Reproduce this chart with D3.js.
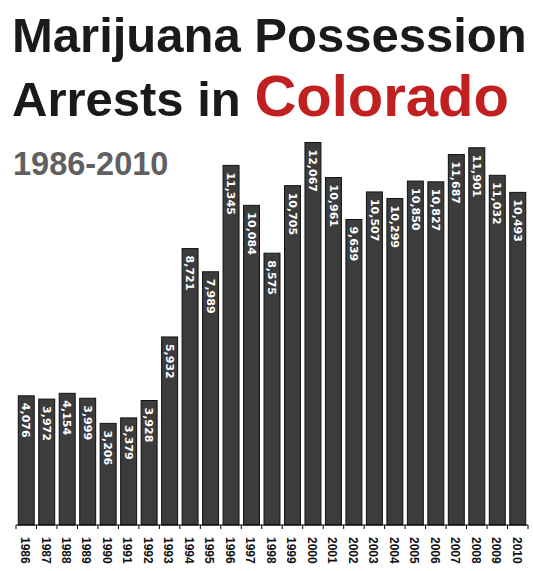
<!DOCTYPE html>
<html lang="en">
<head>
    <meta charset="UTF-8">
    <title>Marijuana Possession Arrests in Colorado</title>
    <script src="https://d3js.org/d3.v7.min.js"></script>
    <style>
        body {
            margin: 0;
            background: #fff;
        }
        svg {
            display: block;
        }
        .title {
            font-family: "Liberation Sans", Arial, sans-serif;
            font-weight: bold;
            font-size: 49px;
            fill: #1b1a1b;
        }
        .subtitle {
            font-family: "Liberation Sans", Arial, sans-serif;
            font-weight: bold;
            font-size: 32.5px;
            fill: #606062;
        }
        .value {
            font-family: "DejaVu Sans", Verdana, sans-serif;
            font-weight: bold;
            font-size: 11px;
            fill: #fff;
        }
        .year {
            font-family: "Liberation Sans", Arial, sans-serif;
            font-weight: bold;
            font-size: 12px;
            fill: #111;
        }
    </style>
</head>
<body>
    <svg></svg>

    <script>
        // data
        const years = ["1986", "1987", "1988", "1989", "1990", "1991", "1992", "1993", "1994",
                       "1995", "1996", "1997", "1998", "1999", "2000", "2001", "2002", "2003",
                       "2004", "2005", "2006", "2007", "2008", "2009", "2010"];
        const arrests = [4076, 3972, 4154, 3999, 3206, 3379, 3928, 5932, 8721,
                         7989, 11345, 10084, 8575, 10705, 12067, 10961, 9639, 10507,
                         10299, 10850, 10827, 11687, 11901, 11032, 10493];

        const data = years.map((y, i) => ({year: y, value: arrests[i]}));

        const width = 533, height = 571;
        const baseline = 525;

        const svg = d3.select("svg")
                      .attr("width", width)
                      .attr("height", height);

        // title
        svg.append("text")
           .attr("class", "title")
           .attr("x", 12)
           .attr("y", 52)
           .text("Marijuana Possession");

        const line2 = svg.append("text")
           .attr("class", "title")
           .attr("x", 12)
           .attr("y", 116);
        line2.append("tspan").text("Arrests in ");
        line2.append("tspan")
             .attr("fill", "#c0201f")
             .attr("font-size", "58px")
             .text("Colorado");

        svg.append("text")
           .attr("class", "subtitle")
           .attr("x", 13)
           .attr("y", 175)
           .text("1986-2010");

        // scales
        const x = d3.scaleBand()
                    .domain(years)
                    .range([16, 528])
                    .paddingInner(0.22)
                    .paddingOuter(0.11);

        const y = d3.scaleLinear()
                    .domain([0, 12067])
                    .range([baseline, 142.5]);

        // bars
        svg.selectAll(".bar")
           .data(data)
           .enter()
           .append("rect")
           .attr("class", "bar")
           .attr("x", d => x(d.year))
           .attr("y", d => y(d.value))
           .attr("width", x.bandwidth())
           .attr("height", d => baseline - y(d.value))
           .attr("fill", "#3c3c3c")
           .attr("stroke", "#111")
           .attr("stroke-width", 1);

        // value labels, rotated inside the bar tops
        svg.selectAll(".value")
           .data(data)
           .enter()
           .append("text")
           .attr("class", "value")
           .attr("transform", d => `translate(${x(d.year) + x.bandwidth() / 2},${y(d.value) + 7}) rotate(90)`)
           .attr("dy", "0.35em")
           .text(d => d3.format(",")(d.value));

        // x axis: line with ticks between the bars
        const step = x.step();
        const axis = svg.append("g")
                        .attr("transform", `translate(0,${baseline})`);

        axis.append("line")
            .attr("x1", x.range()[0])
            .attr("x2", x.range()[1])
            .attr("stroke", "#000")
            .attr("stroke-width", 1.2);

        const bounds = years.map(d => x(d) - step * x.paddingInner() / 2)
                            .concat([x(years[years.length - 1]) + x.bandwidth() + step * x.paddingInner() / 2]);
        axis.selectAll(".tick")
            .data(bounds)
            .enter()
            .append("line")
            .attr("class", "tick")
            .attr("x1", d => d)
            .attr("x2", d => d)
            .attr("y1", 0)
            .attr("y2", 4)
            .attr("stroke", "#000");

        axis.selectAll(".year")
            .data(years)
            .enter()
            .append("text")
            .attr("class", "year")
            .attr("transform", d => `translate(${x(d) + x.bandwidth() / 2 - 1},12) rotate(90)`)
            .attr("dy", "0.35em")
            .text(d => d);
    </script>
</body>
</html>
